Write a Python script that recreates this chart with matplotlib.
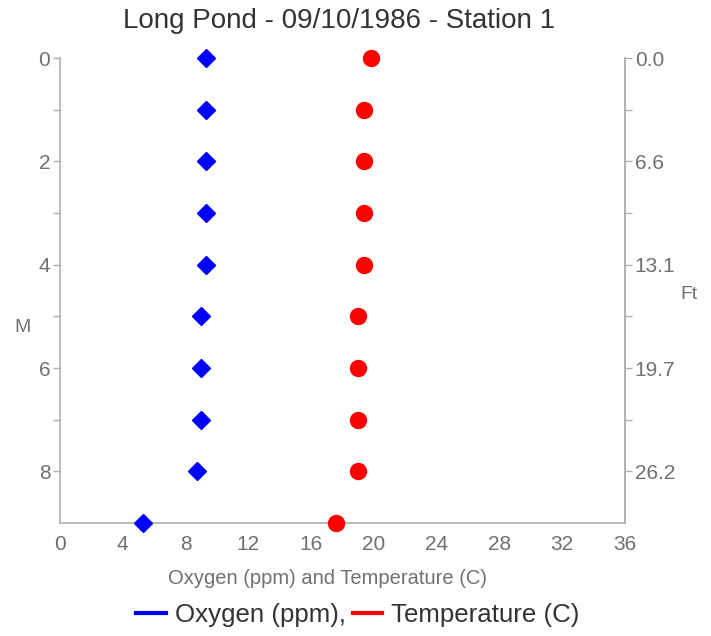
import matplotlib
matplotlib.use("Agg")
import matplotlib.pyplot as plt
from matplotlib.lines import Line2D

plt.rcParams['font.family'] = ['Liberation Sans', 'DejaVu Sans']

# depth in metres, one reading per metre
depth_m = [0, 1, 2, 3, 4, 5, 6, 7, 8, 9]
oxygen_ppm = [9.3, 9.3, 9.3, 9.3, 9.3, 9.0, 9.0, 9.0, 8.7, 5.3]
temperature_c = [19.8, 19.4, 19.4, 19.4, 19.4, 19.0, 19.0, 19.0, 19.0, 17.6]

x_ticks = [0, 4, 8, 12, 16, 20, 24, 28, 32, 36]
m_ticks = [0, 2, 4, 6, 8]
ft_labels = ['0.0', '6.6', '13.1', '19.7', '26.2']

AXIS_GREY = '#b0b0b0'
TICK_TEXT = '#707070'


def plot_profile():
    fig = plt.figure(figsize=(7.11, 6.36), dpi=100)
    ax = fig.add_axes([60 / 711, 1 - 523 / 636, 565 / 711, 465 / 636])

    ax.plot(oxygen_ppm, depth_m, linestyle='none', marker='D', markersize=9.5,
            color='#0000ff', clip_on=False, zorder=3)
    ax.plot(temperature_c, depth_m, linestyle='none', marker='o', markersize=11.5,
            color='#ff0000', clip_on=False, zorder=3)

    ax.set_xlim(0, 36)
    ax.set_ylim(9, 0)
    ax.set_xticks(x_ticks)
    ax.set_yticks(m_ticks)
    ax.set_yticks([1, 3, 5, 7], minor=True)

    ax.spines['top'].set_visible(False)
    for side in ['left', 'right', 'bottom']:
        ax.spines[side].set_color(AXIS_GREY)
        ax.spines[side].set_linewidth(1.2)

    ax.tick_params(axis='x', length=0, pad=9, labelsize=15, labelcolor=TICK_TEXT)
    ax.tick_params(axis='y', which='both', length=5, width=1, color=AXIS_GREY,
                   labelsize=15, labelcolor=TICK_TEXT, pad=2)

    # feet on the right-hand side
    ax2 = ax.twinx()
    ax2.set_ylim(9, 0)
    ax2.set_yticks(m_ticks)
    ax2.set_yticklabels(ft_labels)
    ax2.set_yticks([1, 3, 5, 7], minor=True)
    for side in ['top', 'left', 'bottom']:
        ax2.spines[side].set_visible(False)
    ax2.spines['right'].set_color(AXIS_GREY)
    ax2.spines['right'].set_linewidth(1.2)
    ax2.tick_params(axis='y', which='both', length=5, width=1, color=AXIS_GREY,
                    labelsize=15, labelcolor=TICK_TEXT, pad=2)

    fig.text(328 / 711, 1 - 579 / 636, 'Oxygen (ppm) and Temperature (C)',
             fontsize=14.5, color=TICK_TEXT, ha='center', va='center')
    fig.text(22 / 711, 1 - 327 / 636, 'M', fontsize=14, color=TICK_TEXT,
             ha='center', va='center')
    fig.text(689 / 711, 1 - 295 / 636, 'Ft', fontsize=14, color=TICK_TEXT,
             ha='center', va='center')

    fig.suptitle('Long Pond - 09/10/1986 - Station 1', fontsize=20,
                 color='#333333', x=339 / 711, y=1 - 21 / 636, va='center')

    handles = [Line2D([], [], color='#0000ff', lw=3),
               Line2D([], [], color='#ff0000', lw=3)]
    fig.legend(handles, ['Oxygen (ppm),', 'Temperature (C)'], loc='center',
               bbox_to_anchor=(358 / 711, 1 - 615 / 636), ncol=2, frameon=False,
               fontsize=18.6, handlelength=1.15, handletextpad=0.35,
               columnspacing=0.25, labelcolor='#333333')

    fig.savefig('out.png', dpi=100, facecolor='white')
    plt.close(fig)


if __name__ == '__main__':
    plot_profile()
